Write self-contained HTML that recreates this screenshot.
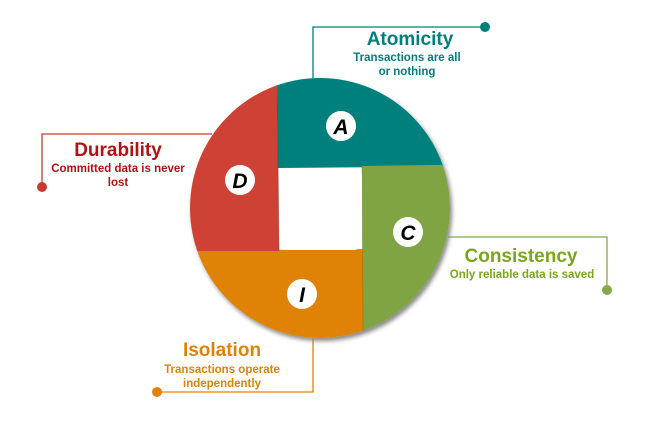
<!DOCTYPE html>
<html><head><meta charset="utf-8"><style>
html,body{margin:0;padding:0;background:#fff;}
svg{display:block;}
text{font-family:"Liberation Sans",Arial,sans-serif;font-weight:bold;text-anchor:middle;}
</style></head><body>
<svg width="650" height="422" viewBox="0 0 650 422" xmlns="http://www.w3.org/2000/svg">
<defs>
<clipPath id="c"><circle cx="320" cy="208" r="130"/></clipPath>
<filter id="sh" x="-10%" y="-10%" width="120%" height="120%"><feGaussianBlur stdDeviation="2"/></filter>
</defs>
<!-- connectors -->
<g fill="none" stroke-width="1.3">
<polyline points="313,80 313,27 485,27" stroke="#00807c"/>
<polyline points="212,134 42,134 42,187" stroke="#c8392f"/>
<polyline points="448,237 607,237 607,290" stroke="#86a84a"/>
<polyline points="313,336 313,392 157,392" stroke="#e08206"/>
</g>
<circle cx="485" cy="27" r="5" fill="#00807c"/>
<circle cx="42" cy="187" r="5" fill="#c8392f"/>
<circle cx="607" cy="290" r="5" fill="#86a84a"/>
<circle cx="157" cy="392" r="5" fill="#e08206"/>
<!-- shadow -->
<circle cx="322" cy="211" r="130" fill="#888" filter="url(#sh)"/>
<g clip-path="url(#c)">
<rect x="150" y="60" width="350" height="300" fill="#fff"/>
<polygon points="277,60 500,60 500,166 278,168" fill="#00807c"/>
<polygon points="362,166 500,164 500,360 363,360" fill="#80a443"/>
<polygon points="170,251 363,249 363,360 170,360" fill="#e08206"/>
<polygon points="170,60 277,60 279,251 170,251" fill="#cd4234"/>
<line x1="277" y1="78" x2="279" y2="251" stroke="#7a2a22" stroke-width="1" opacity="0.4"/>
<line x1="362" y1="166" x2="363" y2="340" stroke="#5a6a2a" stroke-width="1" opacity="0.3"/>
</g>
<rect x="280" y="168" width="82" height="82" rx="8" fill="#fff"/>
<!-- letters -->
<g>
<circle cx="341" cy="126" r="15" fill="#fff"/>
<circle cx="240" cy="180" r="15" fill="#fff"/>
<circle cx="408" cy="232" r="15" fill="#fff"/>
<circle cx="302" cy="294" r="15" fill="#fff"/>
</g>
<g font-size="21" font-style="italic" fill="#000">
<text x="341" y="134" style="font-style:italic">A</text>
<text x="240" y="188" style="font-style:italic">D</text>
<text x="408" y="240" style="font-style:italic">C</text>
<text x="302" y="302" style="font-style:italic">I</text>
</g>
<!-- labels -->
<g fill="#00807c">
<text x="410" y="45" font-size="19">Atomicity</text>
<text x="407" y="61" font-size="11.5">Transactions are all</text>
<text x="407" y="75" font-size="11.5">or nothing</text>
</g>
<g fill="#b31212">
<text x="118" y="156" font-size="19">Durability</text>
<text x="118" y="172" font-size="11.5">Committed data is never</text>
<text x="118" y="186" font-size="11.5">lost</text>
</g>
<g fill="#e08206">
<text x="222" y="356" font-size="19">Isolation</text>
<text x="222" y="373" font-size="11.5">Transactions operate</text>
<text x="222" y="387" font-size="11.5">independently</text>
</g>
<g fill="#7aa51c">
<text x="521" y="262" font-size="19">Consistency</text>
<text x="522" y="278" font-size="11.5">Only reliable data is saved</text>
</g>
</svg>
</body></html>
